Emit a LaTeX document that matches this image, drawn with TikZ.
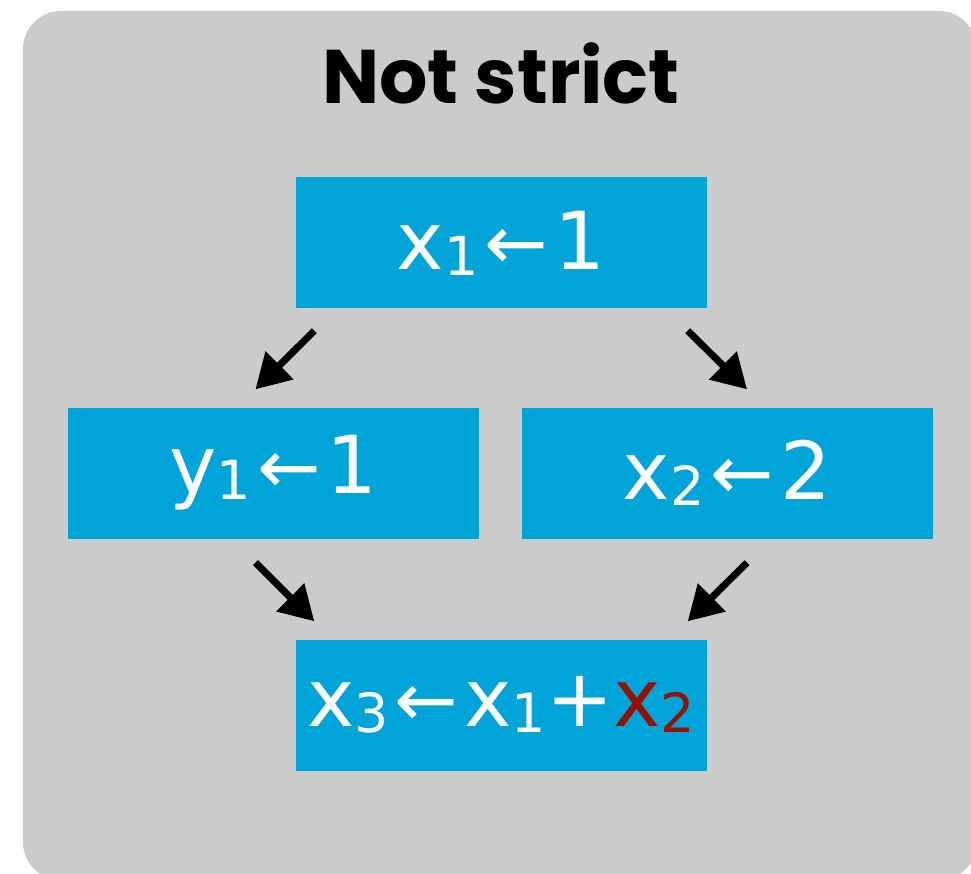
\documentclass[tikz,border=0pt]{standalone}
\usepackage{fontspec}
\setmainfont{DejaVu Sans}
\newfontfamily\titlefont{Poppins}
\usepackage{xcolor}
\usetikzlibrary{arrows.meta,positioning,calc}
\definecolor{panelgray}{RGB}{203,203,203}
\definecolor{boxblue}{RGB}{0,164,216}
\definecolor{darkred}{RGB}{150,18,0}
\newcommand\lowsub[1]{\raisebox{-6pt}{\fontsize{54}{54}\selectfont #1}}
\newcommand\assignarrow{\kern6pt{\fontsize{76}{76}\selectfont ←}\kern6pt}

\begin{document}
\begin{tikzpicture}[x=1pt,y=-1pt,
          blockbox/.style={fill=boxblue,text=white,inner sep=0pt,
                           minimum width=411pt,minimum height=131pt,
                           font=\fontsize{80}{80}\selectfont},
          flowarrow/.style={line width=7pt,
                            -{Triangle[length=34pt,width=38pt]}}]
        \useasboundingbox (0,0) rectangle (971,874);
        \fill[panelgray,rounded corners=38pt] (23,11) rectangle (977,880);
        \node[anchor=base,font=\titlefont\bfseries\fontsize{76}{76}\selectfont]
          (title) at (501,104) {Not strict};
        \node[blockbox] (xone) at (501,243) {x\lowsub{1}\assignarrow1};
        \node[blockbox] (yone) at (273.5,473) {y\lowsub{1}\assignarrow1};
        \node[blockbox] (xtwo) at (727,473) {x\lowsub{2}\assignarrow2};
        \node[blockbox] (xthree) at (501,705)
          {x\lowsub{3}\assignarrow x\lowsub{1}+\textcolor{darkred}{x\lowsub{2}}};
        \draw[flowarrow] ([shift={(19,22)}]xone.south west) -- ([shift={(-18,-18)}]yone.north);
        \draw[flowarrow] ([shift={(-19,22)}]xone.south east) -- ([shift={(20,-18)}]xtwo.north);
        \draw[flowarrow] ([shift={(-18,24)}]yone.south) -- ([shift={(19,-18)}]xthree.north west);
        \draw[flowarrow] ([shift={(20,24)}]xtwo.south) -- ([shift={(-19,-18)}]xthree.north east);
      \end{tikzpicture}
\end{document}
